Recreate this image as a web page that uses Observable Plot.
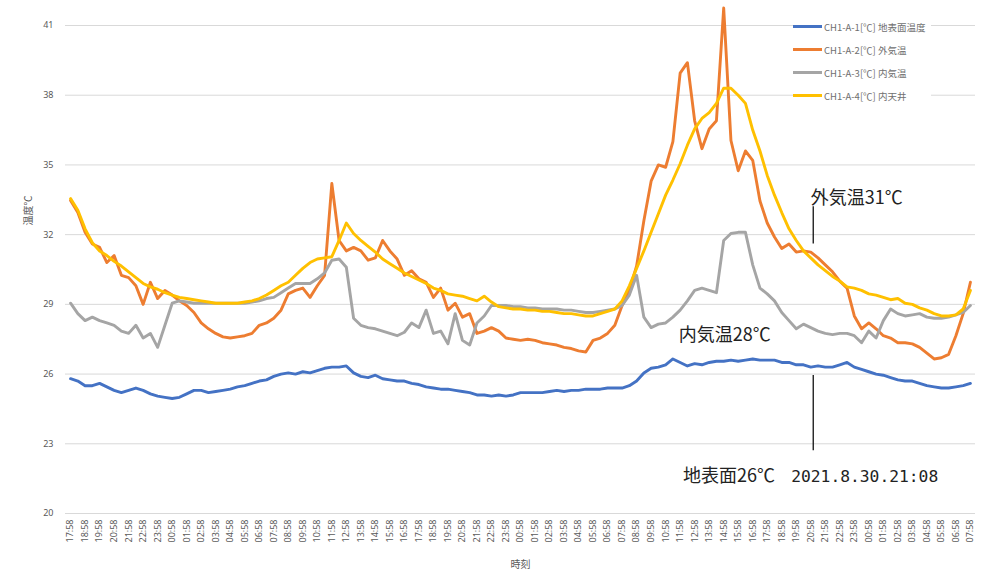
<!DOCTYPE html>
<html>
<head>
<meta charset="utf-8">
<script src="https://cdn.jsdelivr.net/npm/d3@7"></script>
<script src="https://cdn.jsdelivr.net/npm/@observablehq/plot@0.6"></script>
<style>
  html, body { margin: 0; padding: 0; background: #fff; }
  #wrap { position: relative; width: 981px; height: 582px; overflow: hidden; }
  .legend { position: absolute; left: 793px; top: 15px; font-family: "Noto Sans CJK JP", "Noto Sans", sans-serif; font-size: 9.5px; color: #707070; }
  .legend .item { display: flex; align-items: center; height: 23px; background: #fff; padding-right: 6px; }
  .legend .sw { width: 29px; height: 3px; margin-right: 2px; }
</style>
</head>
<body>
<div id="wrap"></div>
<script>
// Series names and colours (legend order)
const seriesNames = ["CH1-A-1[℃] 地表面温度", "CH1-A-2[℃] 外気温", "CH1-A-3[℃] 内気温", "CH1-A-4[℃] 内天井"];
const seriesColors = ["#4472C4", "#ED7D31", "#A5A5A5", "#FFC000"];

// Readings every 30 minutes starting 2021-08-28 17:58 (°C)
const groundSurface = [
  25.8, 25.7, 25.5, 25.5, 25.6, 25.45, 25.3, 25.2, 25.3, 25.4,
  25.3, 25.15, 25.05, 25.0, 24.95, 25.0, 25.15, 25.3, 25.3, 25.2,
  25.25, 25.3, 25.35, 25.45, 25.5, 25.6, 25.7, 25.75, 25.9, 26.0,
  26.05, 26.0, 26.1, 26.05, 26.15, 26.25, 26.3, 26.3, 26.35, 26.05,
  25.9, 25.85, 25.95, 25.8, 25.75, 25.7, 25.7, 25.6, 25.55, 25.45,
  25.4, 25.35, 25.35, 25.3, 25.25, 25.2, 25.1, 25.1, 25.05, 25.1,
  25.05, 25.1, 25.2, 25.2, 25.2, 25.2, 25.25, 25.3, 25.25, 25.3,
  25.3, 25.35, 25.35, 25.35, 25.4, 25.4, 25.4, 25.5, 25.7, 26.05,
  26.25, 26.3, 26.4, 26.65, 26.5, 26.35, 26.45, 26.4, 26.5, 26.55,
  26.55, 26.6, 26.55, 26.6, 26.65, 26.6, 26.6, 26.6, 26.5, 26.5,
  26.4, 26.4, 26.3, 26.35, 26.3, 26.3, 26.4, 26.5, 26.3, 26.2,
  26.1, 26.0, 25.95, 25.85, 25.75, 25.7, 25.7, 25.6, 25.5, 25.45,
  25.4, 25.4, 25.45, 25.5, 25.6
];
const outsideAir = [
  33.47, 32.95, 32.1, 31.6, 31.45, 30.8, 31.1, 30.25, 30.15, 29.8,
  29.0, 29.95, 29.25, 29.6, 29.4, 29.15, 28.95, 28.65, 28.2, 27.95,
  27.75, 27.6, 27.55, 27.6, 27.65, 27.75, 28.1, 28.2, 28.4, 28.75,
  29.45, 29.6, 29.7, 29.3, 29.8, 30.25, 34.2, 31.75, 31.3, 31.45,
  31.3, 30.9, 31.0, 31.75, 31.3, 30.95, 30.25, 30.45, 30.1, 29.95,
  29.3, 29.7, 28.75, 29.05, 28.45, 28.6, 27.75, 27.85, 28.0, 27.85,
  27.55, 27.5, 27.45, 27.5, 27.45, 27.35, 27.3, 27.25, 27.15, 27.1,
  27.0, 26.95, 27.45, 27.55, 27.75, 28.1, 28.95, 29.6, 30.65, 32.6,
  34.3, 35.0, 34.9, 36.0, 38.95, 39.4, 36.9, 35.7, 36.55, 36.9,
  41.75, 36.05, 34.75, 35.6, 35.2, 33.45, 32.5, 31.9, 31.4, 31.6,
  31.25, 31.3, 31.25, 31.0, 30.7, 30.4, 30.0, 29.7, 28.5, 27.95,
  28.2, 27.95, 27.65, 27.55, 27.35, 27.35, 27.3, 27.15, 26.9, 26.65,
  26.7, 26.85, 27.65, 28.6, 29.95
];
const insideAir = [
  29.05, 28.6, 28.3, 28.45, 28.3, 28.2, 28.1, 27.85, 27.75, 28.1,
  27.55, 27.75, 27.15, 28.1, 29.05, 29.15, 29.1, 29.05, 29.05, 29.05,
  29.05, 29.05, 29.05, 29.05, 29.05, 29.1, 29.15, 29.25, 29.3, 29.5,
  29.7, 29.9, 29.9, 29.9, 30.1, 30.35, 30.9, 30.95, 30.6, 28.4,
  28.1, 28.0, 27.95, 27.85, 27.75, 27.65, 27.8, 28.2, 28.0, 28.75,
  27.75, 27.85, 27.3, 28.6, 27.45, 27.25, 28.2, 28.5, 28.95, 28.95,
  28.95, 28.9, 28.9, 28.85, 28.85, 28.8, 28.8, 28.8, 28.75, 28.75,
  28.7, 28.65, 28.65, 28.7, 28.75, 28.8, 28.95, 29.4, 30.25, 28.45,
  28.0, 28.15, 28.2, 28.45, 28.75, 29.15, 29.6, 29.7, 29.6, 29.5,
  31.75, 32.05, 32.1, 32.1, 30.7, 29.7, 29.45, 29.15, 28.65, 28.3,
  27.95, 28.15, 28.0, 27.85, 27.75, 27.7, 27.75, 27.75, 27.65, 27.35,
  27.85, 27.55, 28.3, 28.8, 28.6, 28.5, 28.55, 28.6, 28.45, 28.4,
  28.4, 28.45, 28.55, 28.65, 28.95
];
const insideCeiling = [
  33.55, 33.05, 32.25, 31.65, 31.3, 31.1, 30.85, 30.65, 30.4, 30.15,
  29.9, 29.75, 29.65, 29.5, 29.4, 29.3, 29.25, 29.2, 29.15, 29.1,
  29.05, 29.05, 29.05, 29.05, 29.1, 29.15, 29.25, 29.4, 29.6, 29.8,
  29.95, 30.25, 30.55, 30.8, 30.95, 31.0, 31.05, 31.75, 32.5, 32.05,
  31.75, 31.5, 31.25, 30.95, 30.75, 30.55, 30.35, 30.2, 30.05, 29.9,
  29.7, 29.6, 29.45, 29.4, 29.35, 29.25, 29.15, 29.35, 29.1, 28.9,
  28.85, 28.8, 28.8, 28.75, 28.75, 28.7, 28.7, 28.65, 28.6, 28.6,
  28.55, 28.5, 28.5, 28.6, 28.7, 28.8, 29.15, 29.8, 30.55, 31.3,
  32.1, 32.9, 33.7, 34.35, 35.05, 35.85, 36.55, 37.0, 37.25, 37.65,
  38.3, 38.3, 38.0, 37.65, 36.5, 35.6, 34.55, 33.7, 32.95, 32.25,
  31.75, 31.3, 31.0, 30.7, 30.45, 30.2, 30.0, 29.75, 29.7, 29.6,
  29.45, 29.4, 29.3, 29.2, 29.25, 29.05, 29.0, 28.85, 28.75, 28.6,
  28.5, 28.5, 28.55, 28.8, 29.6
];

// Hourly category labels on the time axis
const tickLabels = [
  "17:58","18:58","19:58","20:58","21:58","22:58","23:58","00:58","01:58","02:58","03:58",
  "04:58","05:58","06:58","07:58","08:58","09:58","10:58","11:58","12:58","13:58","14:58",
  "15:58","16:58","17:58","18:58","19:58","20:58","21:58","22:58","23:58","00:58","01:58",
  "02:58","03:58","04:58","05:58","06:58","07:58","08:58","09:58","10:58","11:58","12:58",
  "13:58","14:58","15:58","16:58","17:58","18:58","19:58","20:58","21:58","22:58","23:58",
  "00:58","01:58","02:58","03:58","04:58","05:58","06:58","07:58"
];
const yTicks = [20, 23, 26, 29, 32, 35, 38, 41];

// Annotations (hours since 17:58 on 8/28, °C)
const annoLabels = ["外気温31℃", "内気温28℃", "地表面26℃"];
const annoHours = [51.0, 41.9, 42.2];
const annoTemps = [33.55, 27.66, 21.6];
const dateLabel = "2021.8.30.21:08";
const dateHour = 49.65;
const dateTemp = 21.6;
const markerHour = 51.17; // 2021.8.30 21:08
const markerOutside = [33.2, 31.6];
const markerGround = [25.94, 22.7];

const allSeries = [groundSurface, outsideAir, insideAir, insideCeiling];
const stepHours = 0.5;
const tables = allSeries.map((vals, s) => vals.map((v, i) => ({hour: i * stepHours, temp: v, series: seriesNames[s]})));
const hourTicks = tickLabels.map((_, k) => k);
const annos = annoLabels.map((t, i) => ({text: t, hour: annoHours[i], temp: annoTemps[i]}));

const chart = Plot.plot({
  width: 981,
  height: 582,
  marginLeft: 65,
  marginRight: 6,
  marginTop: 25,
  marginBottom: 69,
  style: {fontFamily: "'Noto Sans', 'Noto Sans CJK JP', sans-serif", fontSize: "9px", color: "#595959", background: "#fff"},
  x: {domain: [-0.35, 62.35]},
  y: {domain: [20, 41]},
  marks: [
    Plot.gridY(yTicks, {stroke: "#d9d9d9", strokeOpacity: 1, strokeWidth: 1}),
    Plot.axisY(yTicks, {tickSize: 0, tickPadding: 12, label: null, fontSize: 9}),
    Plot.axisX(hourTicks, {tickSize: 0, tickPadding: 6, tickRotate: -90, tickFormat: k => tickLabels[k], label: null, fontSize: 9}),
    ...tables.map((t, s) => Plot.line(t, {x: "hour", y: "temp", stroke: seriesColors[s], strokeWidth: 2.9, strokeLinejoin: "round"})),
    Plot.ruleX([markerHour], {y1: markerOutside[0], y2: markerOutside[1], stroke: "#111", strokeWidth: 1.3}),
    Plot.ruleX([markerHour], {y1: markerGround[0], y2: markerGround[1], stroke: "#111", strokeWidth: 1.3}),
    Plot.text(annos, {x: "hour", y: "temp", text: "text", textAnchor: "start", fontSize: 18, fill: "#222", letterSpacing: "0.6px", fontFamily: "'Noto Sans CJK JP', sans-serif"}),
    Plot.text([dateLabel], {x: dateHour, y: dateTemp, textAnchor: "start", fontSize: 16.3, fill: "#222", fontFamily: "'DejaVu Sans Mono', monospace"}),
    Plot.text(["温度℃"], {frameAnchor: "left", dx: -37, dy: -44, rotate: -90, fontSize: 10, fill: "#595959", fontFamily: "'Noto Sans CJK JP', sans-serif"}),
    Plot.text(["時刻"], {frameAnchor: "bottom", dy: 54, fontSize: 10, fill: "#595959", fontFamily: "'Noto Sans CJK JP', sans-serif"})
  ]
});

const wrap = document.getElementById("wrap");
wrap.appendChild(chart);
const legend = document.createElement("div");
legend.className = "legend";
seriesNames.forEach((name, i) => {
  const item = document.createElement("div");
  item.className = "item";
  const sw = document.createElement("span");
  sw.className = "sw";
  sw.style.background = seriesColors[i];
  const label = document.createElement("span");
  label.textContent = name;
  item.appendChild(sw);
  item.appendChild(label);
  legend.appendChild(item);
});
wrap.appendChild(legend);
</script>
</body>
</html>
